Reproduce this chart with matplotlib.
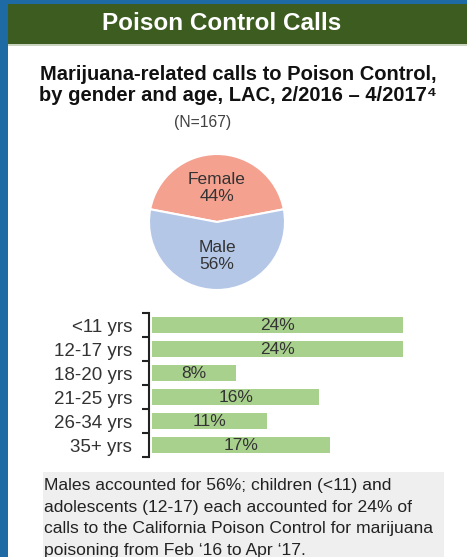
#!/usr/bin/env python3
# -*- coding=utf-8 -*-

import matplotlib
matplotlib.use("Agg")
import matplotlib.pyplot as plt
from matplotlib.patches import Rectangle

W, H = 467, 557

genders = ["Female", "Male"]
gender_pct = [44, 56]

age_groups = ["<11 yrs", "12-17 yrs", "18-20 yrs", "21-25 yrs", "26-34 yrs", "35+ yrs"]
age_pct = [24, 24, 8, 16, 11, 17]

header = "Poison Control Calls"
subtitle = "Marijuana-related calls to Poison Control,\nby gender and age, LAC, 2/2016 \u2013 4/2017\u2074"
n_text = "(N=167)"
note = ("Males accounted for 56%; children (<11) and\n"
        "adolescents (12-17) each accounted for 24% of\n"
        "calls to the California Poison Control for marijuana\n"
        "poisoning from Feb \u201816 to Apr \u201817.")

plt.rcParams['font.family'] = ['Liberation Sans', 'DejaVu Sans']


def fx(x):
    return x / W


def fy(y):
    return 1 - y / H


def box(x0, y0, x1, y1, color):
    # rectangle in pixel coords (top-left origin)
    return Rectangle((fx(x0), fy(y1)), fx(x1 - x0), (y1 - y0) / H,
                     transform=fig.transFigure, facecolor=color,
                     edgecolor='none', zorder=0)


def main():
    global fig
    fig = plt.figure(figsize=(W / 100, H / 100), dpi=100, facecolor='white')

    # frame
    fig.add_artist(box(0, 0, W, 4, '#1d6aa5'))
    fig.add_artist(box(0, 0, 8, H, '#1d6aa5'))
    fig.add_artist(box(8, 4, W, 44, '#3c5c20'))
    fig.add_artist(box(8, 44, W, 46, '#c9d3c0'))
    fig.add_artist(box(43, 472, 444, H, '#efefef'))

    fig.text(fx(222), fy(23), header, color='white', fontsize=17.5,
             fontweight='bold', ha='center', va='center')
    fig.text(fx(238), fy(85), subtitle, color='#111111', fontsize=14.5,
             fontweight='bold', ha='center', va='center', linespacing=1.1)
    fig.text(fx(203), fy(123), n_text, color='#404040', fontsize=11.3,
             ha='center', va='center')

    # pie
    r = 68
    half = 72
    ax1 = fig.add_axes([fx(217 - half), fy(222 + half), 2 * half / W, 2 * half / H])
    labels = [f"{g}\n{p}%" for g, p in zip(genders, gender_pct)]
    wedges, texts = ax1.pie(gender_pct, labels=labels, colors=['#f4a190', '#b4c7e7'],
                            startangle=90 - gender_pct[0] * 3.6 / 2,
                            labeldistance=0.5,
                            wedgeprops=dict(edgecolor='white', linewidth=1.5),
                            textprops=dict(fontsize=12.5, color='#333333'))
    for t in texts:
        t.set_ha('center')
        t.set_va('center')
        t.set_linespacing(1.15)
    ax1.set_xlim(-half / r, half / r)
    ax1.set_ylim(-half / r, half / r)
    ax1.set_aspect('equal')
    ax1.axis('off')

    # bars
    px_per_pct = 10.46
    ax2 = fig.add_axes([fx(149), fy(457), 300 / W, 144 / H])
    ypos = list(range(len(age_groups)))
    ax2.barh(ypos, age_pct, height=0.67, color='#a9d18e', left=0)
    for y, v in zip(ypos, age_pct):
        ax2.text(v / 2, y, f"{v}%", ha='center', va='center',
                 fontsize=12.5, color='#333333')
    ax2.set_xlim(-0.3, 300 / px_per_pct - 0.3)
    ax2.set_ylim(len(age_groups) - 0.5, -0.5)
    ax2.set_yticks(ypos)
    ax2.set_yticklabels(age_groups, fontsize=13.5, color='#333333')
    ax2.set_yticks([i - 0.5 for i in range(len(age_groups) + 1)], minor=True)
    ax2.tick_params(axis='y', which='major', length=0, pad=12)
    ax2.tick_params(axis='y', which='minor', length=5, width=1.5, color='#222222')
    ax2.set_xticks([])
    for s in ['top', 'right', 'bottom']:
        ax2.spines[s].set_visible(False)
    ax2.spines['left'].set_linewidth(1.5)
    ax2.spines['left'].set_color('#222222')
    ax2.patch.set_alpha(0)

    fig.text(fx(44), fy(478), note, color='#222222', fontsize=12.6,
             ha='left', va='top', linespacing=1.56)

    fig.savefig('out.png', dpi=100, facecolor=fig.get_facecolor())


if "__main__" == __name__:
    main()
